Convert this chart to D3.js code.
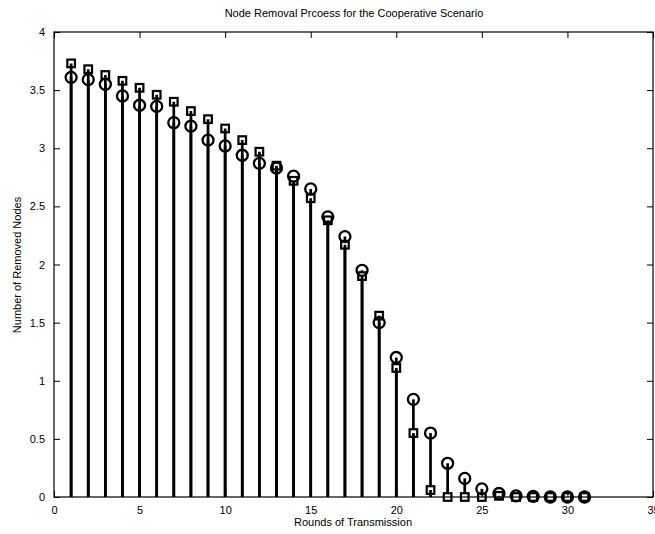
<!DOCTYPE html>
<html><head><meta charset="utf-8">
<script src="https://cdn.jsdelivr.net/npm/d3@7"></script>
<style>
body{margin:0;background:#fff;}
text{font-family:"Liberation Sans",Arial,sans-serif;}
</style></head>
<body><svg id="c" width="655" height="534"></svg>
<script>
const rounds = [1,2,3,4,5,6,7,8,9,10,11,12,13,14,15,16,17,18,19,20,21,22,23,24,25,26,27,28,29,30,31];
const squareSeries = [3.73,3.68,3.63,3.58,3.52,3.46,3.40,3.32,3.25,3.17,3.07,2.97,2.85,2.72,2.57,2.38,2.17,1.90,1.56,1.11,0.55,0.06,0,0,0,0.01,0,0,0,0,0];
const circleSeries = [3.61,3.59,3.55,3.45,3.37,3.36,3.22,3.19,3.07,3.02,2.94,2.87,2.83,2.76,2.65,2.41,2.24,1.95,1.50,1.20,0.84,0.55,0.29,0.16,0.07,0.03,0.01,0.005,0,0,0];
const xTicks = [0,5,10,15,20,25,30,35];
const yTicks = [0,0.5,1,1.5,2,2.5,3,3.5,4];
const titleText = "Node Removal Prcoess for the Cooperative Scenario";
const xLabel = "Rounds of Transmission";
const yLabel = "Number of Removed Nodes";

const svg = d3.select("#c");
const L=54,R=653,T=32,B=497;
const x = d3.scaleLinear().domain([0,35]).range([L,R]);
const y = d3.scaleLinear().domain([0,4]).range([B,T]);

const g = svg.append("g");
// circle stems
rounds.forEach((r,i)=>{
  g.append("line").attr("x1",x(r)).attr("x2",x(r)).attr("y1",y(0)).attr("y2",y(circleSeries[i]))
   .attr("stroke","#000").attr("stroke-width",2.7);
});
// squares
g.selectAll("rect.sq").data(rounds).enter().append("rect")
  .attr("x",d=>x(d)-3.8).attr("y",(d,i)=>y(squareSeries[i])-3.8).attr("width",7.6).attr("height",7.6)
  .attr("fill","#fff").attr("stroke","#000").attr("stroke-width",2.2);
// square stems (drawn through marker to its centre)
rounds.forEach((r,i)=>{
  g.append("line").attr("x1",x(r)).attr("x2",x(r)).attr("y1",y(0)).attr("y2",y(squareSeries[i]))
   .attr("stroke","#000").attr("stroke-width",2.7);
});
// circles
g.selectAll("circle.ci").data(rounds).enter().append("circle")
  .attr("cx",d=>x(d)).attr("cy",(d,i)=>y(circleSeries[i])).attr("r",5.5)
  .attr("fill","none").attr("stroke","#000").attr("stroke-width",2.3);

// frame
svg.append("rect").attr("x",L).attr("y",T).attr("width",R-L).attr("height",B-T)
  .attr("fill","none").attr("stroke","#000").attr("stroke-width",1.2);

const fs = 11;
const xa = svg.append("g").attr("transform",`translate(0,${B})`)
  .call(d3.axisBottom(x).tickValues(xTicks).tickSize(-6).tickPadding(9).tickFormat(d3.format("")));
const xt = svg.append("g").attr("transform",`translate(0,${T})`)
  .call(d3.axisTop(x).tickValues(xTicks).tickSize(-6).tickFormat(""));
const ya = svg.append("g").attr("transform",`translate(${L},0)`)
  .call(d3.axisLeft(y).tickValues(yTicks).tickSize(-6).tickPadding(9).tickFormat(d3.format("")));
const yr = svg.append("g").attr("transform",`translate(${R},0)`)
  .call(d3.axisRight(y).tickValues(yTicks).tickSize(-6).tickFormat(""));
[xa,xt,ya,yr].forEach(a=>{
  a.select(".domain").remove();
  a.selectAll("line").attr("stroke","#000");
  a.selectAll("text").attr("fill","#000").style("font-size",fs+"px").style("font-family","'Liberation Sans',Arial,sans-serif");
});

svg.append("text").attr("x",354).attr("y",17).attr("text-anchor","middle").style("font-size",fs+"px").text(titleText);
svg.append("text").attr("x",353).attr("y",526).attr("text-anchor","middle").style("font-size",fs+"px").text(xLabel);
svg.append("text").attr("transform","translate(21,265) rotate(-90)").attr("text-anchor","middle").style("font-size",fs+"px").text(yLabel);
</script></body></html>
